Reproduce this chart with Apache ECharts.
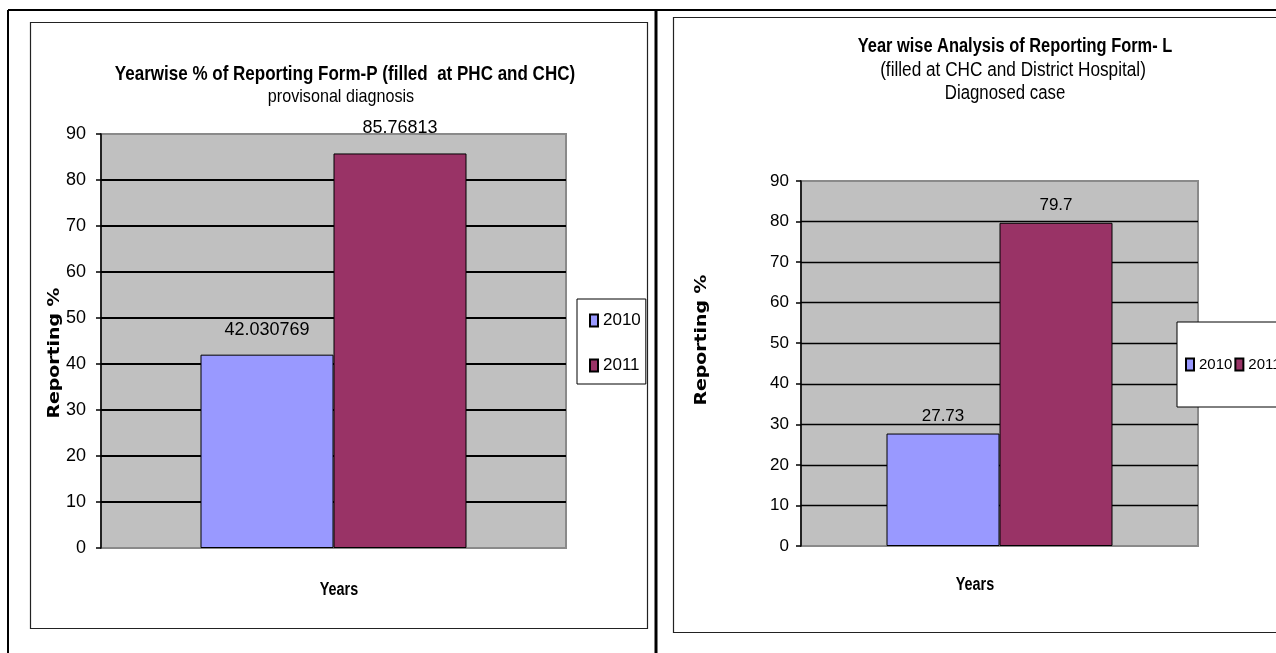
<!DOCTYPE html>
<html>
<head>
<meta charset="utf-8">
<script src="https://cdn.jsdelivr.net/npm/echarts@6/dist/echarts.min.js"></script>
<style>
  html, body { margin: 0; padding: 0; background: #ffffff; }
  #chart { width: 1276px; height: 653px; }
</style>
</head>
<body>
<div id="chart"></div>
<script>
// Reporting percentages per year for the two reporting forms
const years = ['2010', '2011'];
const categories = ['Years'];
const formPValues = [42.030769, 85.76813];
const formLValues = [27.73, 79.7];
const yTicks = { min: 0, max: 90, interval: 10 };

const formPTitle = 'Yearwise % of Reporting Form-P (filled  at PHC and CHC)';
const formPSub = 'provisonal diagnosis';
const formLTitle = 'Year wise Analysis of Reporting Form- L';
const formLSub1 = '(filled at CHC and District Hospital)';
const formLSub2 = 'Diagnosed case';
const xName = 'Years';
const yName = 'Reporting %';

const colors = ['#9999FF', '#993366'];
const SANS = '"Liberation Sans", Arial, sans-serif';
const WIDE = '"DejaVu Sans", Verdana, sans-serif';

const chart = echarts.init(document.getElementById('chart'), null, { renderer: 'canvas' });

function yAxisFor(gridIndex, labelSize, gridWidth, margin) {
  return {
    type: 'value', gridIndex,
    min: yTicks.min, max: yTicks.max, interval: yTicks.interval,
    axisLine: { show: true, lineStyle: { color: '#000', width: 1.5 } },
    axisTick: { show: true, length: 5, lineStyle: { color: '#000', width: 1.5 } },
    axisLabel: { color: '#000', fontFamily: SANS, fontSize: labelSize, margin },
    splitLine: { show: true, showMinLine: false, showMaxLine: false,
                 lineStyle: { color: '#000', width: gridWidth } }
  };
}

function xAxisFor(gridIndex) {
  return {
    type: 'category', gridIndex, data: categories,
    axisLine: { show: false }, axisTick: { show: false }, axisLabel: { show: false }
  };
}

function barSeries(name, values, i, axisIndex, width, labelSize, dist) {
  return {
    type: 'bar', name,
    xAxisIndex: axisIndex, yAxisIndex: axisIndex,
    data: [values[i]],
    barWidth: width, barGap: '0%',
    itemStyle: { color: colors[i], borderColor: '#000', borderWidth: 1 },
    label: { show: true, position: 'top', distance: dist, color: '#000',
             fontFamily: SANS, fontSize: labelSize },
    emphasis: { disabled: true }
  };
}

// condensed-looking text drawn by horizontal scaling
function narrowText(text, x, y, size, bold, scale) {
  return {
    type: 'text', x, y, scaleX: scale, silent: true,
    style: { text, fontFamily: SANS, fontWeight: bold ? 'bold' : 'normal', fontSize: size,
             fill: '#000', align: 'center', verticalAlign: 'middle' }
  };
}

function verticalName(x, y) {
  return {
    type: 'text', x, y, rotation: Math.PI / 2, scaleX: 1.18, silent: true,
    style: { text: yName, fontFamily: WIDE, fontWeight: 'bold', fontSize: 16, fill: '#000',
             align: 'center', verticalAlign: 'middle' }
  };
}

const option = {
  animation: false,
  backgroundColor: '#ffffff',
  grid: [
    { left: 101, top: 134, width: 465, height: 414, show: true,
      backgroundColor: '#C0C0C0', borderColor: '#8a8a8a', borderWidth: 2 },
    { left: 801, top: 181, width: 397, height: 365, show: true,
      backgroundColor: '#C0C0C0', borderColor: '#8a8a8a', borderWidth: 2 }
  ],
  xAxis: [xAxisFor(0), xAxisFor(1)],
  yAxis: [yAxisFor(0, 18, 2, 15), yAxisFor(1, 17, 1.3, 12)],
  legend: [
    { orient: 'vertical', left: 577, top: 299, selectedMode: false,
      data: years.map(n => ({ name: n, icon: 'rect' })),
      itemWidth: 8, itemHeight: 12, itemGap: 28,
      padding: [13, 5, 10, 12],
      borderColor: '#000', borderWidth: 1, backgroundColor: '#fff',
      textStyle: { fontFamily: SANS, fontSize: 17, color: '#000' } },
    { orient: 'horizontal', left: 1177, top: 322, width: 400, selectedMode: false,
      data: years.map(n => ({ name: n, icon: 'rect' })),
      itemWidth: 8, itemHeight: 12, itemGap: 2,
      padding: [35, 100, 35, 8],
      borderColor: '#000', borderWidth: 1, backgroundColor: '#fff',
      textStyle: { fontFamily: SANS, fontSize: 15, color: '#000' } }
  ],
  series: [
    barSeries(years[0], formPValues, 0, 0, 133, 18, 16),
    barSeries(years[1], formPValues, 1, 0, 133, 18, 16),
    barSeries(years[0], formLValues, 0, 1, 113, 17, 9),
    barSeries(years[1], formLValues, 1, 1, 113, 17, 9)
  ],
  graphic: [
    // page table frame
    { type: 'line', shape: { x1: 8, y1: 10, x2: 1276, y2: 10 }, style: { stroke: '#000', lineWidth: 2 }, silent: true },
    { type: 'line', shape: { x1: 8, y1: 10, x2: 8, y2: 653 }, style: { stroke: '#000', lineWidth: 2 }, silent: true },
    { type: 'line', shape: { x1: 656, y1: 10, x2: 656, y2: 653 }, style: { stroke: '#000', lineWidth: 3 }, silent: true },
    // chart frames
    { type: 'rect', shape: { x: 30.5, y: 22.5, width: 617, height: 606 }, style: { fill: null, stroke: '#222', lineWidth: 1.2 }, silent: true, z: -1 },
    { type: 'rect', shape: { x: 673.5, y: 17.5, width: 700, height: 615 }, style: { fill: null, stroke: '#222', lineWidth: 1.2 }, silent: true, z: -1 },
    // chart titles
    narrowText(formPTitle, 345, 74, 21, true, 0.81),
    narrowText(formPSub, 341, 97, 19, false, 0.85),
    narrowText(formLTitle, 1015, 46, 20, true, 0.82),
    narrowText(formLSub1, 1013, 70, 20, false, 0.86),
    narrowText(formLSub2, 1005, 93, 20, false, 0.84),
    // axis titles
    narrowText(xName, 339, 590, 18, true, 0.8),
    narrowText(xName, 975, 585, 18, true, 0.8),
    verticalName(55, 353),
    verticalName(702, 340)
  ]
};

chart.setOption(option);
</script>
</body>
</html>
